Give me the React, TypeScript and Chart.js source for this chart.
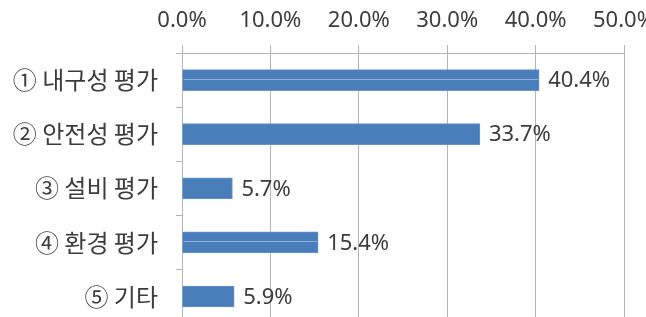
import React, { useEffect, useRef } from "react";
import { Chart, registerables } from "chart.js";

Chart.register(...registerables);

const categories = ["① 내구성 평가", "② 안전성 평가", "③ 설비 평가", "④ 환경 평가", "⑤ 기타"];
const values = [40.4, 33.7, 5.7, 15.4, 5.9];
const axisMin = 0;
const axisMax = 50;
const axisStep = 10;

const TEXT = "#3c3c3c";
const GRID = "#b4b4b4";
const NUM_FONT = '"Noto Sans", "Noto Sans CJK KR", sans-serif';
const KR_FONT = '"Noto Sans CJK KR", "Noto Sans", sans-serif';
const highlightBars = [true, false, false, true, false];

const barDecor = {
  id: "barDecor",
  afterDatasetsDraw(chart: any) {
    const ctx = chart.ctx;
    const meta = chart.getDatasetMeta(0);
    const data = chart.data.datasets[0].data as number[];
    ctx.save();
    meta.data.forEach((bar: any, i: number) => {
      if (highlightBars[i]) {
        ctx.strokeStyle = "#8fb2de";
        ctx.lineWidth = 1;
        ctx.beginPath();
        ctx.moveTo(bar.base + 1, Math.round(bar.y) - 0.5);
        ctx.lineTo(bar.x - 1, Math.round(bar.y) - 0.5);
        ctx.stroke();
      }
      ctx.fillStyle = TEXT;
      ctx.font = `22px ${NUM_FONT}`;
      ctx.textAlign = "left";
      ctx.textBaseline = "middle";
      ctx.fillText(data[i].toFixed(1) + "%", bar.x + 9, bar.y + 1);
    });
    ctx.restore();
  },
};

export default function App() {
  const ref = useRef<HTMLCanvasElement | null>(null);

  useEffect(() => {
    if (!ref.current) return;
    const chart = new Chart(ref.current, {
      type: "bar",
      data: {
        labels: categories,
        datasets: [
          {
            data: values,
            backgroundColor: "#4a7ebb",
            borderColor: "#6894cc",
            borderWidth: 1,
            barThickness: 21,
          },
        ],
      },
      options: {
        indexAxis: "y",
        responsive: false,
        animation: false,
        devicePixelRatio: 1,
        layout: { padding: { top: 8, right: 46, bottom: 0, left: 0 } },
        plugins: {
          legend: { display: false },
          tooltip: { enabled: false },
        },
        scales: {
          x: {
            position: "top",
            min: axisMin,
            max: axisMax,
            ticks: {
              stepSize: axisStep,
              color: TEXT,
              font: { family: NUM_FONT, size: 22 },
              padding: 11,
              callback: (v: any) => Number(v).toFixed(1) + "%",
            },
            grid: {
              color: GRID,
              lineWidth: 1,
              drawTicks: true,
              tickLength: 8,
            },
            border: { display: true, color: GRID },
            afterFit: (scale: any) => {
              scale.height = 45;
            },
          },
          y: {
            ticks: {
              color: TEXT,
              font: { family: KR_FONT, size: 24 },
              padding: 18,
            },
            grid: {
              offset: true,
              drawOnChartArea: false,
              drawTicks: true,
              tickLength: 6,
              color: GRID,
            },
            border: { display: true, color: GRID },
            afterFit: (scale: any) => {
              scale.width = 182;
            },
          },
        },
      },
      plugins: [barDecor],
    });
    return () => chart.destroy();
  }, []);

  return (
    <div
      style={{
        position: "fixed",
        left: 0,
        top: 0,
        width: 646,
        height: 317,
        overflow: "hidden",
        background: "#ffffff",
      }}
    >
      <canvas ref={ref} width={670} height={356} style={{ width: 670, height: 356, display: "block" }} />
    </div>
  );
}
